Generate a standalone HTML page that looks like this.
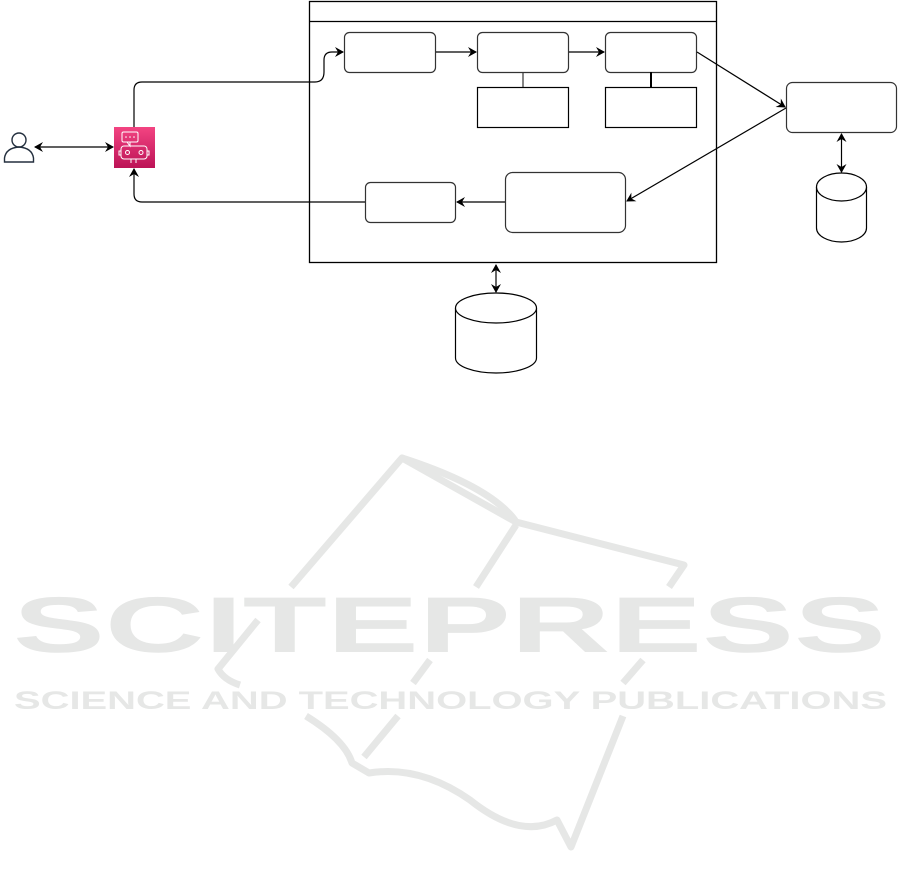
<!DOCTYPE html>
<html><head><meta charset="utf-8"><style>
html,body{margin:0;padding:0;background:#fff;width:901px;height:884px;overflow:hidden}
svg{display:block}
</style></head><body>
<svg width="901" height="884" viewBox="0 0 901 884" xmlns="http://www.w3.org/2000/svg">
<defs>
<linearGradient id="pg" x1="0" y1="0" x2="0" y2="1"><stop offset="0" stop-color="#f34482"/><stop offset="1" stop-color="#bc1356"/></linearGradient>
<marker id="ar" markerWidth="10" markerHeight="10" refX="8" refY="5" orient="auto-start-reverse" markerUnits="userSpaceOnUse"><path d="M0,0 L9,5 L0,10 L3,5 Z" fill="#000"/></marker>
</defs>
<!-- watermark -->
<g fill="none" stroke="#e6e7e6" stroke-width="7" stroke-linejoin="round">
<path d="M291,587 L402,458 L516,522 L684,565 L669,587"/>
<path d="M402,458 Q470,480 500,505 Q512,515 516,522"/>
<path d="M476,587 L516,525"/>
<path d="M258,620 L218,669 Q224,680 240,685"/>
<path d="M430,660 L413,683"/>
<path d="M643,660 L623,683"/>
<path d="M306,716 Q345,740 352,763 L369,773 Q420,765 470,800 Q520,840 557,820 L571,847 L623,716"/>
<path d="M398,716 L364,757"/>
</g>
<g fill="#e6e7e6" font-family="Liberation Sans, sans-serif" font-weight="bold">
<text x="13" y="652" font-size="79" textLength="873" lengthAdjust="spacingAndGlyphs">SCITEPRESS</text>
<text x="14" y="709" font-size="25" textLength="873" lengthAdjust="spacingAndGlyphs">SCIENCE AND TECHNOLOGY PUBLICATIONS</text>
</g>
<!-- container -->
<rect x="309.5" y="1.5" width="407" height="261" fill="none" stroke="#000" stroke-width="1.3"/>
<line x1="309.5" y1="21.5" x2="716.5" y2="21.5" stroke="#000" stroke-width="1.3"/>
<g fill="#fff" stroke="#333" stroke-width="1.2">
<rect x="344.5" y="32.5" width="91" height="40" rx="5"/>
<rect x="477.5" y="32.5" width="91" height="40" rx="5"/>
<rect x="605.5" y="32.5" width="91" height="40" rx="5"/>
<rect x="786.5" y="82.5" width="110" height="50" rx="6"/>
<rect x="505.5" y="172.5" width="120" height="60" rx="7"/>
<rect x="365.5" y="182.5" width="90" height="40" rx="5"/>
</g>
<g fill="#fff" stroke="#000" stroke-width="1.2">
<rect x="477.5" y="87.5" width="91" height="40"/>
<rect x="605.5" y="87.5" width="91" height="40"/>
</g>
<line x1="523" y1="72" x2="523" y2="87" stroke="#333" stroke-width="1.2"/>
<line x1="651" y1="72" x2="651" y2="87" stroke="#000" stroke-width="2"/>
<!-- cylinders -->
<g fill="#fff" stroke="#000" stroke-width="1.2">
<path d="M455.5,308 L455.5,358 A40.5,15 0 0 0 536.5,358 L536.5,308"/>
<ellipse cx="496" cy="308" rx="40.5" ry="15"/>
<path d="M816.5,187 L816.5,228 A25,14 0 0 0 866.5,228 L866.5,187"/>
<ellipse cx="841.5" cy="187" rx="25" ry="14"/>
</g>
<!-- connectors -->
<g fill="none" stroke="#000" stroke-width="1.2">
<line x1="35" y1="147" x2="113" y2="147" marker-start="url(#ar)" marker-end="url(#ar)"/>
<path d="M134,127 L134,90 Q134,82 142,82 L315,82 Q324,82 324,72 L324,60 Q324,52 332,52 L343,52" marker-end="url(#ar)"/>
<path d="M365,202 L142,202 Q134,202 134,194 L134,169" marker-end="url(#ar)"/>
<line x1="436" y1="52" x2="476" y2="52" marker-end="url(#ar)"/>
<line x1="569" y1="52" x2="604" y2="52" marker-end="url(#ar)"/>
<line x1="697" y1="52" x2="785" y2="107" marker-end="url(#ar)"/>
<line x1="786" y1="108" x2="627" y2="201" marker-end="url(#ar)"/>
<line x1="505" y1="202" x2="457" y2="202" marker-end="url(#ar)"/>
<line x1="496" y1="265" x2="496" y2="292" marker-start="url(#ar)" marker-end="url(#ar)"/>
<line x1="841.5" y1="134" x2="841.5" y2="172" marker-start="url(#ar)" marker-end="url(#ar)"/>
</g>
<!-- person -->
<g fill="none" stroke="#232f3e" stroke-width="1.4">
<circle cx="19" cy="140" r="7"/>
<path d="M4.5,162 L4.5,158 Q6,148 19,147 Q32,148 33.5,158 L33.5,162 Z"/>
</g>
<!-- robot -->
<rect x="114" y="127" width="41" height="41" fill="url(#pg)"/>
<g fill="none" stroke="#fff" stroke-width="1">
<rect x="122" y="132" width="16" height="10" rx="1.5"/>
<path d="M127,142 L130,146 L130,142"/>
<rect x="121" y="146" width="26" height="13" rx="3"/>
<circle cx="127.5" cy="152.5" r="2"/><circle cx="141" cy="152.5" r="2"/>
<path d="M131,159 L131,163 M136,159 L136,163 M121,151 L119,151 L119,155 L121,155 M147,151 L149,151 L149,155 L147,155"/>
</g>
<g fill="#fff"><circle cx="126" cy="137" r=".8"/><circle cx="130" cy="137" r=".8"/><circle cx="134" cy="137" r=".8"/></g>
</svg>
</body></html>
